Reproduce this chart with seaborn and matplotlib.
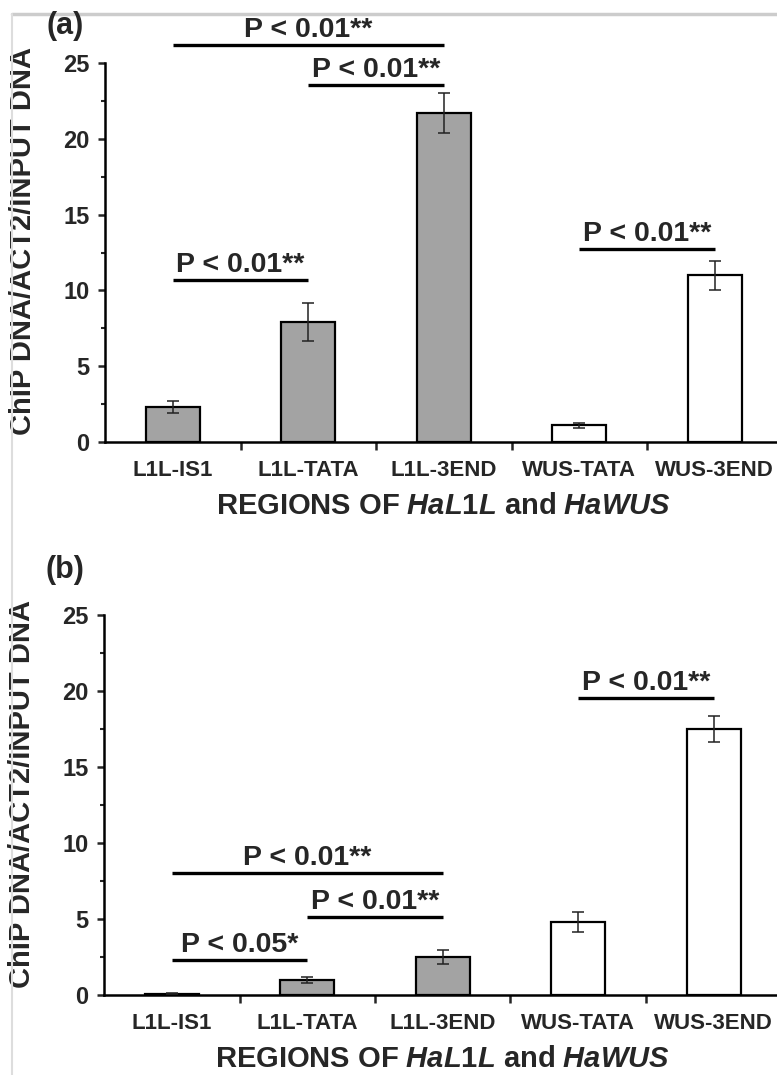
import matplotlib
matplotlib.use("Agg")
import matplotlib.pyplot as plt
from matplotlib.lines import Line2D
from matplotlib.ticker import MultipleLocator, FixedLocator
import seaborn as sns
import pandas as pd

# ---------------- data ----------------
categories = ["L1L-IS1", "L1L-TATA", "L1L-3END", "WUS-TATA", "WUS-3END"]
values_a = [2.3, 7.9, 21.7, 1.1, 11.0]
errors_a = [0.4, 1.25, 1.3, 0.17, 0.95]
values_b = [0.08, 1.0, 2.5, 4.8, 17.5]
errors_b = [0.02, 0.2, 0.45, 0.65, 0.85]
bar_colors = ["#a3a3a3", "#a3a3a3", "#a3a3a3", "#ffffff", "#ffffff"]

sig_pairs_a = [(0, 2), (1, 2), (0, 1), (3, 4)]
sig_levels_a = [26.2, 23.55, 10.7, 12.7]
sig_labels_a = ["P < 0.01**", "P < 0.01**", "P < 0.01**", "P < 0.01**"]

sig_pairs_b = [(0, 2), (1, 2), (0, 1), (3, 4)]
sig_levels_b = [8.05, 5.1, 2.3, 19.55]
sig_labels_b = ["P < 0.01**", "P < 0.01**", "P < 0.05*", "P < 0.01**"]

ylabel = "ChIP DNA/ACT2/INPUT DNA"
xlabel = r"REGIONS OF $\mathit{HaL1L}$ and $\mathit{HaWUS}$"
yticks = [0, 5, 10, 15, 20, 25]

# ---------------- style ----------------
sns.set_style("ticks")
plt.rcParams["font.family"] = ["Liberation Sans", "DejaVu Sans"]
plt.rcParams["mathtext.fontset"] = "custom"
plt.rcParams["mathtext.rm"] = "Liberation Sans:bold"
plt.rcParams["mathtext.it"] = "Liberation Sans:bold:italic"
plt.rcParams["mathtext.bf"] = "Liberation Sans:bold"

W, H = 777, 1075
fig = plt.figure(figsize=(W / 100, H / 100), dpi=100)
fig.patch.set_facecolor("white")

ax_a = fig.add_axes([105 / W, 1 - 442 / H, 677.5 / W, 379 / H])
ax_b = fig.add_axes([104 / W, 1 - 995 / H, 677.5 / W, 380 / H])


def draw_panel(ax, values, errors, pairs, levels, labels, tag, tag_y):
    df = pd.DataFrame({"region": categories, "value": values})
    sns.barplot(data=df, x="region", y="value", hue="region", order=categories,
                hue_order=categories, palette=bar_colors, legend=False,
                width=0.4, edgecolor="black", linewidth=1.6, saturation=1,
                errorbar=None, ax=ax)
    ax.errorbar(range(len(categories)), values, yerr=errors, fmt="none",
                ecolor="#222222", elinewidth=1.1, capsize=4, capthick=1.1,
                zorder=5)
    ax.set_xlim(-0.5, 4.5)
    ax.set_ylim(0, 25)
    sns.despine(ax=ax)
    for s in ("left", "bottom"):
        ax.spines[s].set_linewidth(1.8)
        ax.spines[s].set_color("black")
    ax.set_facecolor("white")

    ax.set_yticks(yticks)
    ax.set_yticklabels([str(t) for t in yticks], fontsize=17, fontweight="bold")
    ax.yaxis.set_minor_locator(MultipleLocator(2.5))
    ax.tick_params(axis="y", which="major", direction="out", length=5, width=1.8, pad=6)
    ax.tick_params(axis="y", which="minor", direction="out", length=3, width=1.5)

    ax.set_xticks(range(len(categories)))
    ax.set_xticklabels(categories, fontsize=16, fontweight="bold")
    ax.xaxis.set_minor_locator(FixedLocator([0.5, 1.5, 2.5, 3.5]))
    ax.tick_params(axis="x", which="major", length=0, pad=13)
    ax.tick_params(axis="x", which="minor", direction="out", length=6, width=1.8)

    ax.set_xlabel(xlabel, fontsize=21, fontweight="bold", labelpad=8)
    ax.set_ylabel(ylabel, fontsize=21, fontweight="bold")
    ax.yaxis.set_label_coords(-0.10, 0.53)

    for (x1, x2), lv, lab in zip(pairs, levels, labels):
        ax.plot([x1, x2], [lv, lv], color="black", lw=2.4, clip_on=False,
                solid_capstyle="butt", zorder=6)
        ax.annotate(lab, xy=((x1 + x2) / 2, lv), xytext=(0, 1.5),
                    textcoords="offset points", ha="center", va="bottom",
                    fontsize=20.5, fontweight="bold", annotation_clip=False)

    fig.text(65 / W, 1 - tag_y / H, tag, ha="center", va="center",
             fontsize=22, fontweight="bold")


draw_panel(ax_a, values_a, errors_a, sig_pairs_a, sig_levels_a, sig_labels_a, "(a)", 26)
draw_panel(ax_b, values_b, errors_b, sig_pairs_b, sig_levels_b, sig_labels_b, "(b)", 570)

# light grey frame from the source image
fig.add_artist(Line2D([12 / W, 1], [1 - 13.5 / H, 1 - 13.5 / H], color="#cccccc", lw=2.5,
                      transform=fig.transFigure))
fig.add_artist(Line2D([12 / W, 12 / W], [0, 1 - 13.5 / H], color="#dddddd", lw=1.5,
                      transform=fig.transFigure))

fig.savefig("out.png", dpi=100)
